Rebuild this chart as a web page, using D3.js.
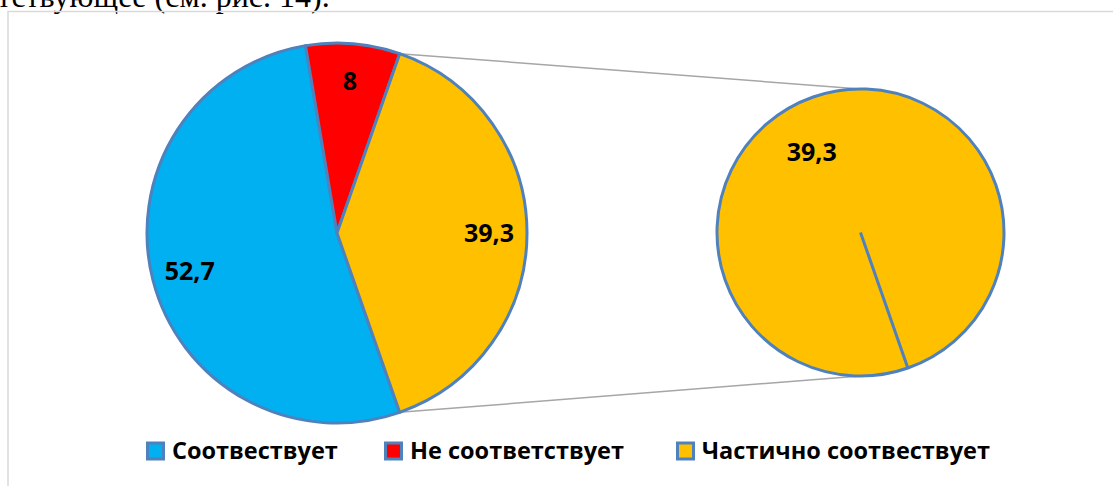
<!DOCTYPE html>
<meta charset="utf-8">
<style>
  body { margin: 0; background: #fff; }
  svg { display: block; }
</style>
<body>
<div id="chart"></div>
<script src="https://cdn.jsdelivr.net/npm/d3@7"></script>
<script>
  // data
  const categories = ["Соотвествует", "Не соответствует", "Частично соотвествует"];
  const values = [52.7, 8, 39.3];
  const colors = ["#00b0f0", "#ff0000", "#ffc000"];
  const secondValues = [39.3];   // the split-out slice
  const labels = ["52,7", "8", "39,3"];
  const secondLabels = ["39,3"];
  const captionText = "тствующее (см. рис. 14).";

  const width = 1113, height = 486;
  const edge = "#4f81bd";
  const font = "'Open Sans', sans-serif";

  const svg = d3.select("#chart").append("svg")
      .attr("width", width).attr("height", height);

  // cut-off line of text from the page above
  svg.append("text")
      .attr("x", -3).attr("y", 7)
      .attr("font-family", "'Liberation Serif', 'Times New Roman', serif")
      .attr("font-size", 32)
      .text(captionText);

  // chart frame (runs out of the picture at right and bottom)
  svg.append("rect")
      .attr("x", 8).attr("y", 11.5)
      .attr("width", 1200).attr("height", 600)
      .attr("fill", "none")
      .attr("stroke", "#d9d9d9")
      .attr("stroke-width", 1.5);

  const c1 = [337, 233], r1 = 190;
  const c2 = [860.5, 232.5], r2 = 143.5;

  // rotate so the split slice faces the second pie (centred at 3 o'clock)
  const total = d3.sum(values);
  const before = d3.sum(values.slice(0, -1));
  const start = Math.PI / 2 - 2 * Math.PI * (before + values[values.length - 1] / 2) / total;

  const pie = d3.pie().sort(null).value(d => d)
      .startAngle(start).endAngle(start + 2 * Math.PI);
  const arcs = pie(values);
  const arc = d3.arc().innerRadius(0).outerRadius(r1);

  const last = arcs[arcs.length - 1];

  // connector lines between the two pies
  const p1 = d3.pointRadial(last.startAngle, r1);
  const p2 = d3.pointRadial(last.endAngle, r1);
  const q1 = d3.pointRadial(0, r2);
  const q2 = d3.pointRadial(Math.PI, r2);
  const conn = svg.append("g")
      .attr("stroke", "#a6a6a6").attr("stroke-width", 1.5);
  conn.append("line")
      .attr("x1", c1[0] + p1[0]).attr("y1", c1[1] + p1[1])
      .attr("x2", c2[0] + q1[0]).attr("y2", c2[1] + q1[1]);
  conn.append("line")
      .attr("x1", c1[0] + p2[0]).attr("y1", c1[1] + p2[1])
      .attr("x2", c2[0] + q2[0]).attr("y2", c2[1] + q2[1]);

  // main pie
  const g1 = svg.append("g").attr("transform", `translate(${c1})`);
  g1.selectAll("path")
    .data(arcs)
    .join("path")
      .attr("d", arc)
      .attr("fill", (d, i) => colors[i])
      .attr("stroke", edge)
      .attr("stroke-width", 3)
      .attr("stroke-linejoin", "round");

  const labelArc = d3.arc().innerRadius(r1 * 0.8).outerRadius(r1 * 0.8);
  g1.selectAll("text")
    .data(arcs)
    .join("text")
      .attr("transform", d => `translate(${labelArc.centroid(d)})`)
      .attr("text-anchor", "middle")
      .attr("dy", "0.35em")
      .attr("font-family", font)
      .attr("font-weight", "bold")
      .attr("font-size", 25)
      .text((d, i) => labels[i]);

  // second pie: the split slice on its own
  const pie2 = d3.pie().sort(null).value(d => d)
      .startAngle(start).endAngle(start + 2 * Math.PI);
  const arcs2 = pie2(secondValues);
  const arc2 = d3.arc().innerRadius(0).outerRadius(r2);
  const g2 = svg.append("g").attr("transform", `translate(${c2})`);
  g2.selectAll("path")
    .data(arcs2)
    .join("path")
      .attr("d", arc2)
      .attr("fill", colors[2])
      .attr("stroke", edge)
      .attr("stroke-width", 3);
  // radial edge of the single slice
  g2.selectAll("line")
    .data(arcs2)
    .join("line")
      .attr("x1", 0).attr("y1", 0)
      .attr("x2", d => d3.pointRadial(d.startAngle, r2)[0])
      .attr("y2", d => d3.pointRadial(d.startAngle, r2)[1])
      .attr("stroke", edge)
      .attr("stroke-width", 3);
  g2.selectAll("text")
    .data(arcs2)
    .join("text")
      .attr("transform", d => {
        const a = d.startAngle + Math.PI - 0.21;
        return `translate(${d3.pointRadial(a, r2 * 0.655)})`;
      })
      .attr("text-anchor", "middle")
      .attr("dy", "0.35em")
      .attr("font-family", font)
      .attr("font-weight", "bold")
      .attr("font-size", 25)
      .text((d, i) => secondLabels[i]);

  // legend
  const legendX = [146, 384, 676];
  const legend = svg.append("g").attr("transform", "translate(0,451)");
  const item = legend.selectAll("g")
    .data(categories)
    .join("g")
      .attr("transform", (d, i) => `translate(${legendX[i]},0)`);
  item.append("rect")
      .attr("x", 1.5).attr("y", -8)
      .attr("width", 16).attr("height", 16)
      .attr("fill", (d, i) => colors[i])
      .attr("stroke", edge)
      .attr("stroke-width", 3);
  item.append("text")
      .attr("x", 26)
      .attr("dy", "0.36em")
      .attr("font-family", font)
      .attr("font-weight", "bold")
      .attr("font-size", 23.5)
      .text(d => d);
</script>
</body>
